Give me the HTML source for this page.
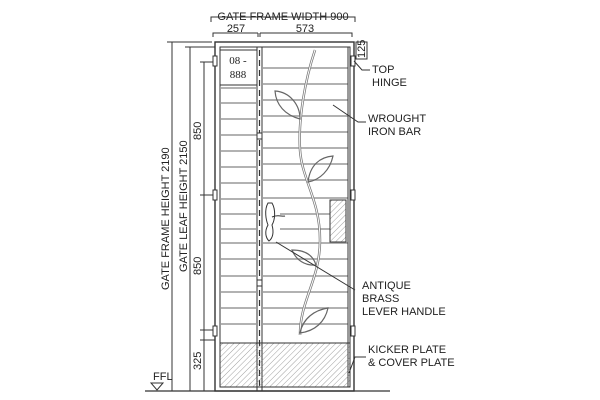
<!DOCTYPE html>
<html><head><style>body{margin:0;background:#fff}svg{display:block}text{font-family:"Liberation Sans",sans-serif;font-size:11px;fill:#222}</style></head><body>
<svg width="600" height="400" viewBox="0 0 600 400">
<defs><pattern id="h" width="4" height="4" patternUnits="userSpaceOnUse" patternTransform="rotate(45)"><line x1="0" y1="0" x2="0" y2="4" stroke="#777" stroke-width="0.7"/></pattern></defs>
<g stroke="#333" fill="none" stroke-width="1">
<text x="283" y="20" text-anchor="middle" stroke="none">GATE FRAME WIDTH 900</text>
<path d="M211,22 V17 H355 V22"/>
<text x="236" y="32" text-anchor="middle" stroke="none">257</text>
<text x="305" y="32" text-anchor="middle" stroke="none">573</text>
<path d="M213,37 V33 H258 M260,33 H352 V37 M258,33 V37 M260,33 V37"/>
<rect x="356" y="42" width="11" height="17"/>
<text transform="translate(365,58) rotate(-90)" x="0" y="0" font-size="10" stroke="none">125</text>
<path d="M167,42 H212 M172,42 V391 M185,47 H215 M190,47 V391 M200,62 H215 M204,62 V391 M200,195 H215 M200,330 H215 M200,340 H215"/>
<text transform="translate(169,290) rotate(-90)" stroke="none">GATE FRAME HEIGHT 2190</text>
<text transform="translate(187,272) rotate(-90)" stroke="none">GATE LEAF HEIGHT 2150</text>
<text transform="translate(201,140) rotate(-90)" stroke="none">850</text>
<text transform="translate(201,275) rotate(-90)" stroke="none">850</text>
<text transform="translate(201,370) rotate(-90)" stroke="none">325</text>
<text x="153" y="380" font-size="7" stroke="none">FFL</text>
<path d="M151,383 H163 L157,390 Z"/>
<path d="M145,391 H390" stroke-width="1.3"/>
<rect x="215" y="42" width="139" height="349" stroke-width="1.4"/>
<rect x="220" y="47" width="130" height="340"/>
<path d="M257,47 V391 M262,47 V391"/>
<path d="M259.5,50 V388" stroke-dasharray="6,4" stroke-width="1.2"/>
<g stroke="#999" stroke-width="1.4">
<path d="M262,68 H348 M220,88 H257 M262,84 H348 M220,103 H257 M262,100 H348 M220,119 H257 M262,116 H348 M220,135 H257 M262,132 H348 M220,151 H257 M262,148 H348 M220,167 H257 M262,164 H348 M220,183 H257 M262,180 H348 M220,199 H257 M262,198 H348 M220,214 H257 M280,214 H330 M220,229 H257 M280,229 H330 M220,243 H257 M262,243 H348 M220,259 H257 M262,259 H348 M220,276 H257 M262,276 H348 M220,292 H257 M262,292 H348 M220,308 H257 M262,308 H348 M220,324 H257 M262,324 H348"/>
</g>
<rect x="220" y="50" width="37" height="35" fill="#fff"/>
<text x="238" y="64" text-anchor="middle" font-size="11" stroke="none" style="font-family:'Liberation Serif',serif">08 -</text>
<text x="238" y="78" text-anchor="middle" font-size="11" stroke="none" style="font-family:'Liberation Serif',serif">888</text>
<path d="M348,47 V387"/>
<rect x="220" y="343" width="130" height="44" fill="url(#h)"/>
<rect x="330" y="200" width="16" height="42" fill="url(#h)"/>
<g fill="#fff"><rect x="213" y="56" width="4" height="10"/><rect x="213" y="190" width="4" height="10"/><rect x="213" y="326" width="4" height="10"/><rect x="351" y="56" width="4" height="10"/><rect x="351" y="190" width="4" height="10"/><rect x="351" y="326" width="4" height="10"/><rect x="257" y="133" width="5" height="6"/><rect x="257" y="280" width="5" height="6"/></g>
<path d="M268,203 C264,210 266,220 268,225 C264,232 266,238 269,241 C273,238 274,232 272,225 C275,220 276,210 272,203 Z" fill="#fff"/>
<path d="M272,217 C278,214 282,217 285,216"/>
<g stroke="#777" stroke-width="2.5"><path d="M315,50 C305,80 298,120 300,150 C302,180 320,200 320,240 C320,280 300,300 300,335"/></g>
<g stroke="#fff" stroke-width="1"><path d="M315,50 C305,80 298,120 300,150 C302,180 320,200 320,240 C320,280 300,300 300,335"/></g>
<g stroke="#666" stroke-width="1.2">
<path d="M275,91 C290,92 300,105 300,119 C285,115 276,105 275,91 Z"/>
<path d="M308,182 C310,165 320,157 333,156 C330,170 320,180 308,182 Z"/>
<path d="M292,250 C305,250 313,255 316,265 C305,266 296,260 292,250 Z"/>
<path d="M300,333 C303,318 315,310 328,308 C325,322 315,331 300,333 Z"/>
</g>
<path d="M354,61 L362,70 H370 M333,105 L358,122 H366 M276,242 L355,290 M349,373 L355,357 H366"/>
</g>
<text x="372" y="73">TOP</text><text x="372" y="86">HINGE</text>
<text x="368" y="122">WROUGHT</text><text x="368" y="135">IRON BAR</text>
<text x="362" y="289">ANTIQUE</text><text x="362" y="302">BRASS</text><text x="362" y="315">LEVER HANDLE</text>
<text x="368" y="353">KICKER PLATE</text><text x="368" y="366">&amp; COVER PLATE</text>
</svg>
</body></html>
